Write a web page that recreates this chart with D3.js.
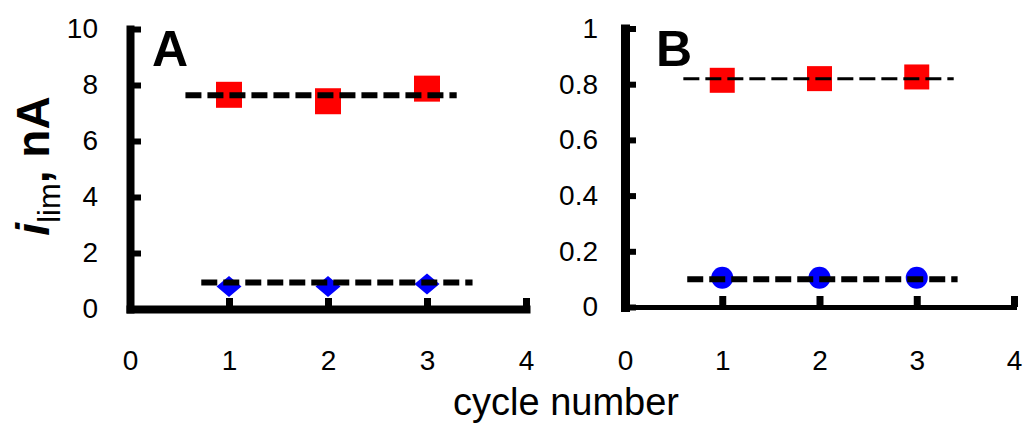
<!DOCTYPE html>
<html>
<head>
<meta charset="utf-8">
<script src="https://cdn.jsdelivr.net/npm/d3@7"></script>
<style>
  html, body { margin: 0; padding: 0; background: #fff; }
  svg { display: block; }
  text { font-family: "Liberation Sans", Arial, sans-serif; fill: #000; }
</style>
</head>
<body>
<svg id="chart" width="1026" height="423"></svg>
<script>
// Limiting current over repeated cycles
const cycles = [1, 2, 3];
const xTicks = [0, 1, 2, 3, 4];

// Panel A (nA)
const aTicks = [0, 2, 4, 6, 8, 10];
const aRed = [7.65, 7.42, 7.87];
const aBlue = [0.80, 0.80, 0.89];
const aRefSpan = [[0.56, 3.30], [0.72, 3.46]];
const aRefLevel = [7.63, 0.95];

// Panel B (nA)
const bTicks = [0, 0.2, 0.4, 0.6, 0.8, 1];
const bRed = [0.814, 0.820, 0.826];
const bBlue = [0.105, 0.105, 0.105];
const bRefSpan = [[0.60, 3.38], [0.64, 3.42]];
const bRefLevel = [0.82, 0.10];

const svg = d3.select("#chart");
svg.append("rect").attr("width", 1026).attr("height", 423).attr("fill", "#fff");

function panel(cfg) {
  const x = d3.scaleLinear().domain([0, 4]).range(cfg.xRange);
  const y = d3.scaleLinear().domain(cfg.yDomain).range(cfg.yRange);
  const g = svg.append("g");

  // y axis (ticks pointing inward)
  const ya = g.append("g")
    .attr("transform", `translate(${x(0)},0)`)
    .call(d3.axisLeft(y).tickValues(cfg.yTicks).tickFormat(d => String(d))
      .tickSizeInner(-11).tickSizeOuter(0).tickPadding(cfg.yPad));
  ya.select(".domain").attr("stroke", "#000").attr("stroke-width", cfg.yAxisW).attr("stroke-linecap", "square");
  ya.selectAll(".tick line").attr("stroke", "#000").attr("stroke-width", 6);
  ya.selectAll(".tick text").attr("font-size", 28).attr("fill", "#000");

  // x axis (ticks pointing up)
  const xa = g.append("g")
    .attr("transform", `translate(0,${y(0)})`)
    .call(d3.axisBottom(x).tickValues(xTicks).tickFormat(d => String(d))
      .tickSizeInner(-11).tickSizeOuter(0).tickPadding(cfg.xPad));
  xa.select(".domain").attr("stroke", "#000").attr("stroke-width", cfg.xAxisW).attr("stroke-linecap", "square");
  xa.selectAll(".tick line").attr("stroke", "#000").attr("stroke-width", 7);
  xa.selectAll(".tick").filter(d => d === 0).select("line").remove();
  xa.selectAll(".tick text").attr("font-size", 28).attr("fill", "#000");

  // red squares
  const sq = cfg.sq;
  g.selectAll(".red").data(cycles.map((c, i) => [c, cfg.red[i]])).join("rect")
    .attr("x", d => x(d[0]) - sq / 2)
    .attr("y", d => y(d[1]) - sq / 2)
    .attr("width", sq).attr("height", sq)
    .attr("fill", "#ff0000");

  // blue markers
  const blue = cycles.map((c, i) => [c, cfg.blue[i]]);
  if (cfg.blueShape === "diamond") {
    g.selectAll(".blue").data(blue).join("path")
      .attr("d", d => {
        const cx = x(d[0]), cy = y(d[1]), w = 12.5, h = 10.5;
        return `M${cx},${cy - h}L${cx + w},${cy}L${cx},${cy + h}L${cx - w},${cy}Z`;
      })
      .attr("fill", "#0000ff");
  } else {
    g.selectAll(".blue").data(blue).join("circle")
      .attr("cx", d => x(d[0])).attr("cy", d => y(d[1])).attr("r", 11)
      .attr("fill", "#0000ff");
  }

  // dashed reference levels
  cfg.refSpan.forEach((span, i) => {
    g.append("line")
      .attr("x1", x(span[0])).attr("x2", x(span[1]))
      .attr("y1", y(cfg.refLevel[i])).attr("y2", y(cfg.refLevel[i]))
      .attr("stroke", "#000")
      .attr("stroke-width", cfg.refW[i])
      .attr("stroke-dasharray", "16,6");
  });

  // panel letter
  g.append("text")
    .attr("x", cfg.letterX).attr("y", 66)
    .attr("font-size", 50).attr("font-weight", "bold")
    .text(cfg.letter);
}

panel({
  xRange: [130, 526], yDomain: [0, 10], yRange: [309, 29], yTicks: aTicks,
  yPad: 32, xPad: 41, yAxisW: 8, xAxisW: 8, sq: 26,
  red: aRed, blue: aBlue, blueShape: "diamond",
  refSpan: aRefSpan, refLevel: aRefLevel, refW: [6, 6],
  letter: "A", letterX: 152
});

panel({
  xRange: [625, 1014], yDomain: [0, 1], yRange: [307, 28.5], yTicks: bTicks,
  yPad: 27, xPad: 43, yAxisW: 9, xAxisW: 5, sq: 25,
  red: bRed, blue: bBlue, blueShape: "circle",
  refSpan: bRefSpan, refLevel: bRefLevel, refW: [3, 6],
  letter: "B", letterX: 656
});

// shared axis titles
svg.append("text")
  .attr("x", 566).attr("y", 415)
  .attr("text-anchor", "middle").attr("font-size", 38)
  .text("cycle number");

const yl = svg.append("text")
  .attr("transform", "translate(49,166) rotate(-90)")
  .attr("text-anchor", "middle").attr("font-size", 46).attr("font-weight", "bold");
yl.append("tspan").attr("font-style", "italic").text("i");
yl.append("tspan").attr("font-size", 31).attr("font-weight", "normal").attr("dy", 11).text("lim");
yl.append("tspan").attr("dy", -11).text(", nA");
</script>
</body>
</html>
